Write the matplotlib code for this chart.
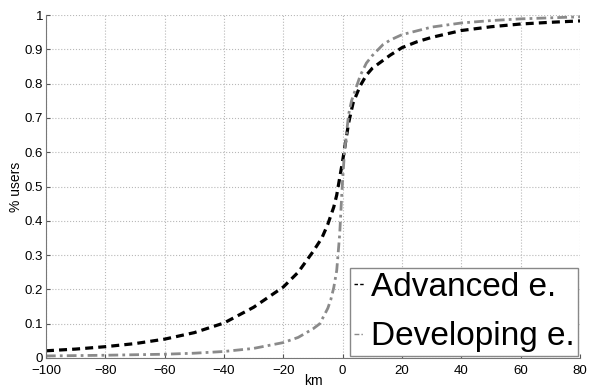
import numpy as np
import matplotlib.pyplot as plt

plt.rcParams['font.family'] = ['Liberation Sans', 'DejaVu Sans']

# distance (km) vs cumulative share of users
adv_km = [-100, -90, -80, -70, -60, -50, -40, -30, -20, -15, -10, -7, -5, -3, -2, -1,
          0, 1, 2, 3.5, 5, 6, 8, 10, 13, 16, 20, 25, 30, 40, 50, 60, 70, 80]
adv_users = [0.021, 0.026, 0.033, 0.042, 0.055, 0.074, 0.102, 0.148, 0.207, 0.25, 0.31,
             0.35, 0.39, 0.44, 0.475, 0.525, 0.575, 0.63, 0.685, 0.743, 0.775, 0.795,
             0.825, 0.845, 0.864, 0.883, 0.905, 0.922, 0.935, 0.955, 0.966, 0.974, 0.979, 0.983]

dev_km = [-100, -80, -60, -50, -40, -30, -20, -15, -10, -7.7, -5, -4, -3, -2, -1, -0.4,
          0, 0.5, 1, 2, 3, 4, 6, 8, 10, 13.6, 16, 20, 30, 40, 50, 60, 70, 80]
dev_users = [0.006, 0.008, 0.011, 0.014, 0.019, 0.028, 0.045, 0.06, 0.085, 0.10, 0.145,
             0.17, 0.205, 0.255, 0.36, 0.46, 0.52, 0.585, 0.63, 0.71, 0.75, 0.775, 0.825,
             0.86, 0.882, 0.914, 0.927, 0.943, 0.965, 0.977, 0.984, 0.989, 0.992, 0.995]

labels = ["Advanced e.", "Developing e."]
xticks = np.arange(-100, 81, 20)
yticks = np.arange(0, 1.01, 0.1)

fig = plt.figure(figsize=(5.94, 3.91), dpi=100)
ax = fig.add_axes([0.0774, 0.0844, 0.899, 0.877])

ax.plot(adv_km, adv_users, color='black', linestyle=(0, (2.5, 1.6)), linewidth=2.3,
        label=labels[0])
ax.plot(dev_km, dev_users, color='#8a8a8a', linestyle=(0, (3.5, 1.5, 1, 1.5)), linewidth=2.0,
        label=labels[1])

ax.set_xlim(-100, 80)
ax.set_ylim(0, 1)
ax.set_xticks(xticks)
ax.set_yticks(yticks)
ax.set_yticklabels(['0'] + ['%.1f' % v for v in yticks[1:-1]] + ['1'])
ax.tick_params(direction='in', length=3, labelsize=9.5, color='#555555')
ax.tick_params(axis='y', pad=2)
ax.tick_params(axis='x', pad=5)
ax.grid(True, linestyle=':', color='#b8b8b8', linewidth=0.8)

for s in ['top', 'right']:
    ax.spines[s].set_visible(False)
for s in ['left', 'bottom']:
    ax.spines[s].set_color('#777777')

ax.set_xlabel("km", fontsize=10, labelpad=-2)
ax.set_ylabel("% users", fontsize=10, labelpad=1)

leg = ax.legend(loc='lower right', prop={'size': 24},
                handlelength=0.3, handletextpad=0.2, borderpad=0.12, labelspacing=0.55,
                borderaxespad=0.05, fancybox=False, framealpha=1)
leg.get_frame().set_edgecolor('#888888')
leg.get_frame().set_linewidth(1.0)
for line in leg.get_lines():
    line.set_linewidth(1.0)

plt.savefig('out.png', dpi=100)
